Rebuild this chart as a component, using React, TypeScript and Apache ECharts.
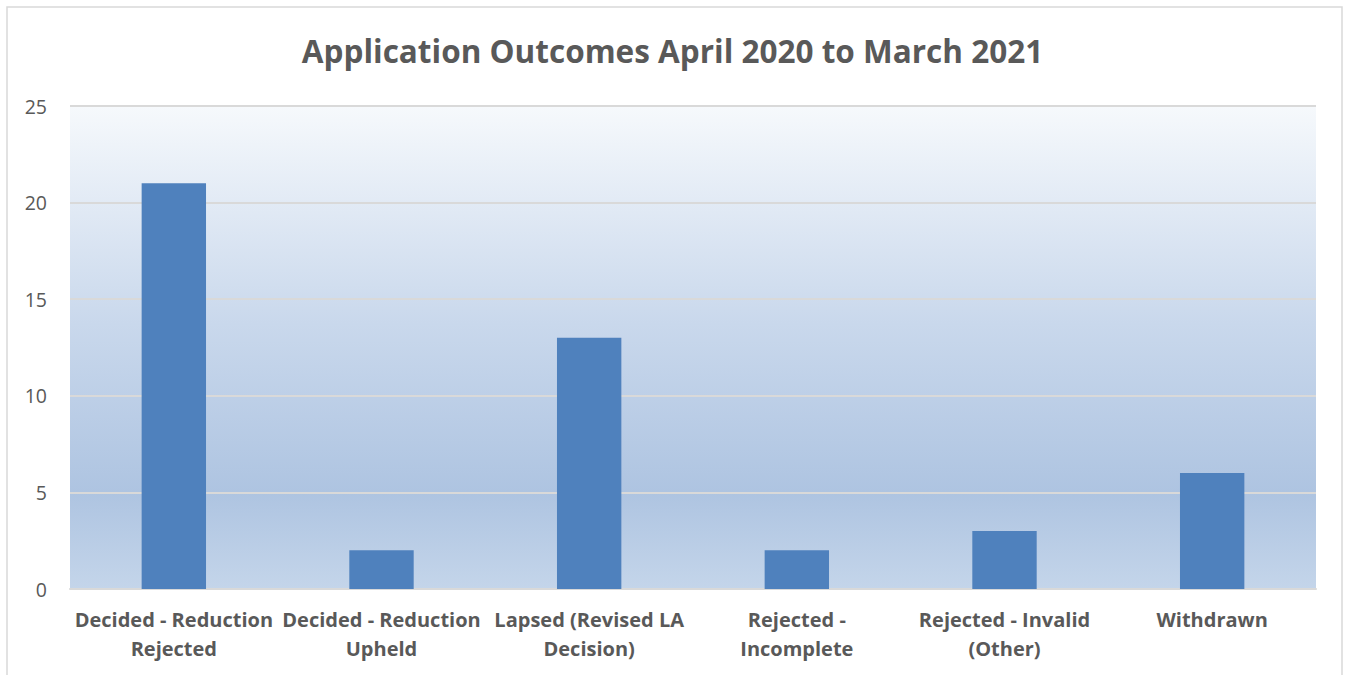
import React, { useEffect, useRef } from "react";
import * as echarts from "echarts";

const title = "Application Outcomes April 2020 to March 2021";
const categories = [
  "Decided - Reduction\nRejected",
  "Decided - Reduction\nUpheld",
  "Lapsed (Revised LA\nDecision)",
  "Rejected -\nIncomplete",
  "Rejected - Invalid\n(Other)",
  "Withdrawn",
];
const values = [21, 2, 13, 2, 3, 6];
const yMin = 0;
const yMax = 25;
const yStep = 5;

export default function App() {
  const ref = useRef<HTMLDivElement>(null);
  useEffect(() => {
    document.body.style.margin = "0";
    const chart = echarts.init(ref.current!, null, { renderer: "svg" });
    const font = "'Open Sans', Lato, sans-serif";
    chart.setOption({
      animation: false,
      backgroundColor: "#ffffff",
      title: {
        text: title,
        left: "center",
        top: 29,
        textStyle: { fontFamily: font, fontSize: 31.5, fontWeight: "bold", color: "#595959" },
      },
      graphic: [
        {
          type: "rect",
          shape: { x: 7, y: 7, width: 1335, height: 720 },
          style: { fill: "none", stroke: "#d9d9d9", lineWidth: 1.5 },
          silent: true,
          z: -1,
        },
      ],
      grid: {
        left: 70,
        right: 29,
        top: 106,
        bottom: 86,
        show: true,
        borderWidth: 0,
        backgroundColor: new echarts.graphic.LinearGradient(0, 0, 0, 1, [
          { offset: 0, color: "#f6f9fc" },
          { offset: 0.45, color: "#c9d8ec" },
          { offset: 0.8, color: "#aec4e1" },
          { offset: 1, color: "#c4d5ea" },
        ]),
      },
      xAxis: {
        type: "category",
        data: categories,
        axisLine: { show: true, lineStyle: { color: "#d9d9d9", width: 2 } },
        axisTick: { show: false },
        axisLabel: {
          interval: 0,
          margin: 16,
          fontFamily: font,
          fontSize: 20,
          fontWeight: "bold",
          color: "#595959",
          lineHeight: 29,
        },
      },
      yAxis: {
        type: "value",
        min: yMin,
        max: yMax,
        interval: yStep,
        axisLine: { show: false },
        axisTick: { show: false },
        splitLine: { lineStyle: { color: "#d9d9d9", width: 2 } },
        axisLabel: {
          margin: 23,
          fontFamily: font,
          fontSize: 19.5,
          color: "#595959",
        },
      },
      series: [
        {
          type: "bar",
          data: values,
          barWidth: "31%",
          itemStyle: { color: "#4f81bd" },
        },
      ],
    });
    return () => chart.dispose();
  }, []);
  return <div ref={ref} style={{ width: 1345, height: 675 }} />;
}
